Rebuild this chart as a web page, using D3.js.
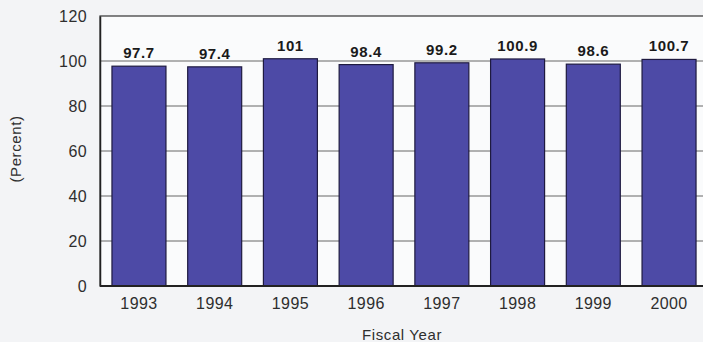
<!DOCTYPE html>
<html>
<head>
<meta charset="utf-8">
<script src="https://cdn.jsdelivr.net/npm/d3@7"></script>
<style>
  html, body { margin: 0; padding: 0; background: #f3f4f6; }
  svg { display: block; }
</style>
</head>
<body>
<svg id="chart" width="703" height="342"></svg>
<script>
const years = ["1993", "1994", "1995", "1996", "1997", "1998", "1999", "2000"];
const percents = [97.7, 97.4, 101, 98.4, 99.2, 100.9, 98.6, 100.7];
const valueLabels = ["97.7", "97.4", "101", "98.4", "99.2", "100.9", "98.6", "100.7"];
const yTicks = [0, 20, 40, 60, 80, 100, 120];

const svg = d3.select("#chart");
const plotLeft = 100, plotTop = 16, plotBottom = 286, plotRight = 708;
const font = "Liberation Sans, Arial, sans-serif";

const x = d3.scaleBand().domain(years).range([plotLeft, plotRight])
  .paddingInner(0.287).paddingOuter(0.158);
const y = d3.scaleLinear().domain([0, 120]).range([plotBottom, plotTop]);

// plot area
svg.append("rect").attr("x", plotLeft).attr("y", plotTop)
  .attr("width", 703 - plotLeft + 5).attr("height", plotBottom - plotTop)
  .attr("fill", "#fafbfc").attr("stroke", "#333").attr("stroke-width", 1.2);

// gridlines
svg.append("g").selectAll("line").data(yTicks.filter(d => d > 0 && d < 120)).join("line")
  .attr("x1", plotLeft).attr("x2", 703)
  .attr("y1", d => y(d)).attr("y2", d => y(d))
  .attr("stroke", "#666").attr("stroke-width", 1);

// bars
svg.append("g").selectAll("rect").data(percents).join("rect")
  .attr("x", (d, i) => x(years[i]))
  .attr("y", d => y(d))
  .attr("width", x.bandwidth())
  .attr("height", d => plotBottom - y(d))
  .attr("fill", "#4d4aa6").attr("stroke", "#1e1a40").attr("stroke-width", 1.2);

// value labels
svg.append("g").selectAll("text").data(percents).join("text")
  .attr("x", (d, i) => x(years[i]) + x.bandwidth() / 2)
  .attr("y", d => y(d) - 8)
  .attr("text-anchor", "middle")
  .attr("font-family", font).attr("letter-spacing", 0.6)
  .attr("font-size", 15).attr("font-weight", "bold").attr("fill", "#1a1a1a")
  .text((d, i) => valueLabels[i]);

// axes
const yAxis = d3.axisLeft(y).tickValues(yTicks).tickSize(0).tickPadding(13);
const gy = svg.append("g").attr("transform", `translate(${plotLeft},0)`).call(yAxis);
gy.select(".domain").attr("stroke", "#222").attr("stroke-width", 1.5);
gy.selectAll("text").attr("font-family", font).attr("letter-spacing", 0.4)
  .attr("font-size", 16).attr("fill", "#2e2e2e");

const xAxis = d3.axisBottom(x).tickSize(0).tickPadding(12);
const gx = svg.append("g").attr("transform", `translate(0,${plotBottom})`).call(xAxis);
gx.select(".domain").remove();
gx.append("line").attr("x1", plotLeft).attr("x2", 703).attr("stroke", "#222").attr("stroke-width", 1.8);
gx.selectAll("text").attr("font-family", font).attr("letter-spacing", 0.4)
  .attr("font-size", 16).attr("fill", "#2e2e2e");

// axis titles
svg.append("text").attr("transform", "translate(21,149) rotate(-90)")
  .attr("text-anchor", "middle")
  .attr("font-family", font).attr("letter-spacing", 0.6)
  .attr("font-size", 15).attr("fill", "#2e2e2e").text("(Percent)");
svg.append("text").attr("x", 402).attr("y", 340)
  .attr("text-anchor", "middle")
  .attr("font-family", font).attr("letter-spacing", 0.6)
  .attr("font-size", 15).attr("fill", "#2e2e2e").text("Fiscal Year");
</script>
</body>
</html>
